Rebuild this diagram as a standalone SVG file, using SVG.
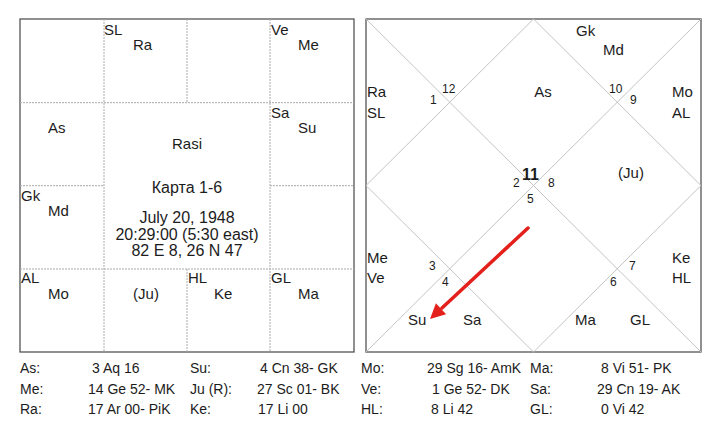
<svg xmlns="http://www.w3.org/2000/svg" width="721" height="448" viewBox="0 0 721 448">
<style>
text{font-family:"Liberation Sans",Arial,sans-serif;fill:#1c1c1c;}
.c{font-size:15px;}
.m{text-anchor:middle;}
.dt{font-size:16px;}
.s{font-size:12px;}
.t{font-size:14px;}
.box{fill:none;stroke:#555;stroke-width:1.3;}
.g{stroke:#aaa;stroke-width:1;stroke-dasharray:2 1;fill:none;}
.d{stroke:#c4c4c4;stroke-width:1;fill:none;}
.arrow{stroke:#e3201b;stroke-width:3.5;stroke-linecap:round;fill:none;}
.head{fill:#e3201b;}
</style>
<rect width="721" height="448" fill="#fff"/>
<g id="rasi-chart">
<rect class="box" x="20" y="19" width="334" height="333"/>
<path class="g" d="M104,19V352M270,19V352M187,19V102.7M187,269V352M20,102.7H354M20,269H354M20,185.7H104M270,185.7H354"/>
</g>
<g id="rasi-labels" class="c">
<text x="104" y="35">SL</text><text x="133" y="50">Ra</text>
<text x="271" y="35">Ve</text><text x="298" y="50">Me</text>
<text x="48" y="133">As</text>
<text x="271" y="118">Sa</text><text x="298" y="133">Su</text>
<text x="21" y="201">Gk</text><text x="48" y="216">Md</text>
<text x="21" y="283">AL</text><text x="48" y="299">Mo</text>
<text x="146" y="299" class="m">(Ju)</text>
<text x="188" y="283">HL</text><text x="214" y="299">Ke</text>
<text x="271" y="283">GL</text><text x="298" y="299">Ma</text>
<text x="187" y="149" class="m">Rasi</text>
<text x="187" y="193" class="m dt">Карта 1-6</text>
<text x="187" y="223" class="m dt">July 20, 1948</text>
<text x="187" y="240" class="m dt">20:29:00 (5:30 east)</text>
<text x="187" y="256" class="m dt">82 E 8, 26 N 47</text>
</g>
<g id="north-chart">
<rect class="box" x="366" y="19" width="335" height="333"/>
<path class="d" d="M366,19L701,352M701,19L366,352M533.5,19L701,185.5L533.5,352L366,185.5Z"/>
</g>
<g id="north-labels" class="c">
<text x="576" y="36">Gk</text><text x="603" y="55">Md</text>
<text x="367" y="97">Ra</text><text x="367" y="118">SL</text>
<text x="543" y="97" class="m">As</text>
<text x="672" y="97">Mo</text><text x="672" y="118">AL</text>
<text x="631" y="178" class="m">(Ju)</text>
<text x="367" y="263">Me</text><text x="367" y="283">Ve</text>
<text x="672" y="263">Ke</text><text x="672" y="283">HL</text>
<text x="408" y="325">Su</text><text x="463" y="325">Sa</text>
<text x="575" y="325">Ma</text><text x="630" y="325">GL</text>
<text x="522" y="180" style="font-size:16px;font-weight:bold">11</text>
</g>
<g id="house-numbers" class="s">
<text x="430" y="104">1</text><text x="442" y="93">12</text>
<text x="609" y="93">10</text><text x="630" y="104">9</text>
<text x="513" y="187">2</text><text x="548" y="187">8</text><text x="527" y="203">5</text>
<text x="429" y="270">3</text><text x="442" y="286">4</text>
<text x="629" y="270">7</text><text x="610" y="286">6</text>
</g>
<g id="connectors">
<line class="arrow" x1="528" y1="228" x2="442" y2="308"/>
<polygon class="head" points="430,319 446.1,314.3 435.9,303.3"/>
</g>
<g id="table" class="t">
<text x="20" y="373">As:</text><text x="92" y="373">3 Aq 16</text>
<text x="20" y="394">Me:</text><text x="88" y="394">14 Ge 52- MK</text>
<text x="20" y="414">Ra:</text><text x="88" y="414">17 Ar 00- PiK</text>
<text x="190" y="373">Su:</text><text x="260" y="373">4 Cn 38- GK</text>
<text x="190" y="394">Ju (R):</text><text x="257" y="394">27 Sc 01- BK</text>
<text x="190" y="414">Ke:</text><text x="258" y="414">17 Li 00</text>
<text x="361" y="373">Mo:</text><text x="427" y="373">29 Sg 16- AmK</text>
<text x="361" y="394">Ve:</text><text x="432" y="394">1 Ge 52- DK</text>
<text x="361" y="414">HL:</text><text x="431" y="414">8 Li 42</text>
<text x="530" y="373">Ma:</text><text x="601" y="373">8 Vi 51- PK</text>
<text x="530" y="394">Sa:</text><text x="597" y="394">29 Cn 19- AK</text>
<text x="530" y="414">GL:</text><text x="601" y="414">0 Vi 42</text>
</g>
</svg>
